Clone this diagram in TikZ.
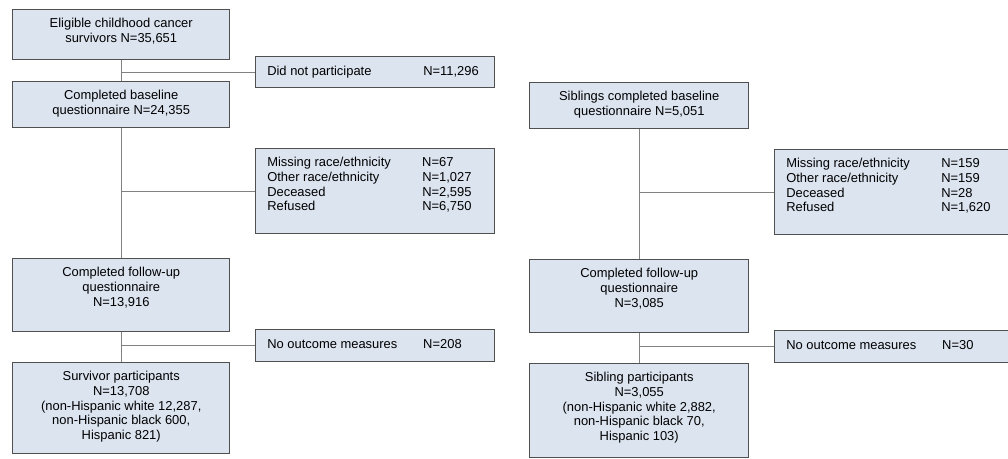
\documentclass[tikz,border=0pt]{standalone}
\usepackage{fontspec}
\setmainfont{Liberation Sans}
\definecolor{boxfill}{RGB}{220,228,240}
\definecolor{boxline}{RGB}{80,80,80}
\definecolor{connc}{RGB}{130,130,130}
\tikzset{
  box/.style={draw=boxline, fill=boxfill, line width=1.1pt, inner sep=0pt, anchor=north west},
  wl/.style={minimum width=162.75pt},
  wr/.style={minimum width=164.25pt},
  we/.style={minimum width=179.25pt},
  wf/.style={minimum width=187.5pt},
  txt/.style={anchor=north, align=center, inner sep=0pt},
  lst/.style={anchor=north west, inner sep=0pt},
  one/.style={anchor=west, inner sep=0pt},
  conn/.style={draw=connc, line width=0.85pt}
}
\begin{document}
\begin{tikzpicture}[x=0.75pt,y=-0.75pt, font=\fontsize{9.7}{11}\selectfont]
\useasboundingbox (0,0) rectangle (1008,458);
\clip (0,0) rectangle (1008,458);

% ---------- left column ----------
\node[box, wl, minimum height=37.5pt] (s1) at (12,9) {};
\node[box, wl, minimum height=34.5pt] (s2) at (12,81) {};
\node[box, wl, minimum height=54.75pt] (s3) at (12,258) {};
\node[box, wl, minimum height=68.25pt] (s4) at (12,362) {};
\node[box, we, minimum height=23.25pt] (d1) at (255,56) {};
\node[box, we, minimum height=63.75pt] (e1) at (255,148) {};
\node[box, we, minimum height=24pt] (n1) at (255,329) {};

\node[txt] (s1t) at ([yshift=-6.15pt]s1.north) {\strut Eligible childhood cancer\\survivors N=35,651};
\node[txt] (s2t) at ([yshift=-6.15pt]s2.north) {\strut Completed baseline\\questionnaire N=24,355};
\node[txt] (s3t) at ([yshift=-6.15pt]s3.north) {\strut Completed follow-up\\questionnaire\\N=13,916};
\node[txt] (s4t) at ([yshift=-6.15pt]s4.north) {\strut Survivor participants\\N=13,708\\(non-Hispanic white 12,287,\\non-Hispanic black 600,\\Hispanic 821)};

\node[one] (d1t) at ([xshift=9pt]d1.west) {\begin{tabular}{@{}p{117pt}@{}l@{}}Did not participate & N=11,296\end{tabular}};
\node[lst] (e1t) at ([xshift=9pt,yshift=-6.15pt]e1.north west) {\begin{tabular}{@{}p{116.25pt}@{}l@{}}
Missing race/ethnicity & N=67\\
Other race/ethnicity & N=1,027\\
Deceased & N=2,595\\
Refused & N=6,750\end{tabular}};
\node[one] (n1t) at ([xshift=9pt]n1.west) {\begin{tabular}{@{}p{117pt}@{}l@{}}No outcome measures & N=208\end{tabular}};

\draw[conn] (s1.south) -- (s2.north);
\draw[conn] (s2.south) -- (s3.north);
\draw[conn] (s3.south) -- (s4.north);
\draw[conn] (s1.south |- d1.west) -- (d1.west);
\draw[conn] (s2.south |- e1.west) -- (e1.west);
\draw[conn] (s3.south |- n1.west) -- (n1.west);

% ---------- right column ----------
\node[box, wr, minimum height=34.5pt] (b1) at (529,82) {};
\node[box, wr, minimum height=54.75pt] (b3) at (529,259) {};
\node[box, wr, minimum height=70.5pt] (b4) at (529,363) {};
\node[box, wf, minimum height=63.75pt] (e2) at (774,149) {};
\node[box, wf, minimum height=24pt] (n2) at (774,330) {};

\node[txt] (b1t) at ([yshift=-6.15pt]b1.north) {\strut Siblings completed baseline\\questionnaire N=5,051};
\node[txt] (b3t) at ([yshift=-6.15pt]b3.north) {\strut Completed follow-up\\questionnaire\\N=3,085};
\node[txt] (b4t) at ([yshift=-6.15pt]b4.north) {\strut Sibling participants\\N=3,055\\(non-Hispanic white 2,882,\\non-Hispanic black 70,\\Hispanic 103)};

\node[lst] (e2t) at ([xshift=9pt,yshift=-6.15pt]e2.north west) {\begin{tabular}{@{}p{116.25pt}@{}l@{}}
Missing race/ethnicity & N=159\\
Other race/ethnicity & N=159\\
Deceased & N=28\\
Refused & N=1,620\end{tabular}};
\node[one] (n2t) at ([xshift=9pt]n2.west) {\begin{tabular}{@{}p{117pt}@{}l@{}}No outcome measures & N=30\end{tabular}};

\draw[conn] (b1.south) -- (b3.north);
\draw[conn] (b3.south) -- (b4.north);
\draw[conn] (b1.south |- e2.west) -- (e2.west);
\draw[conn] (b3.south |- n2.west) -- (n2.west);
\end{tikzpicture}
\end{document}
